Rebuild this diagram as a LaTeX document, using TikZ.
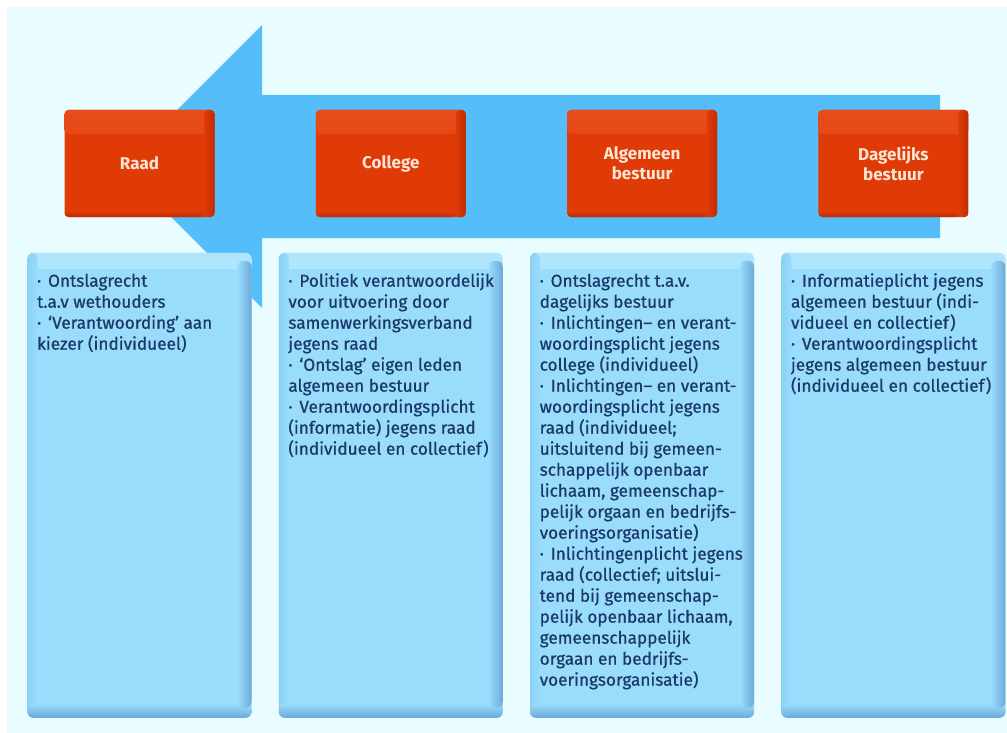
\documentclass[tikz,border=0pt]{standalone}
\usepackage{fontspec}
\setmainfont{Fira Sans}
\newfontfamily\infofont{Fira Sans}[Ligatures=TeX, FakeBold=0.7]
\usetikzlibrary{positioning}

\definecolor{bgcyan}{HTML}{E9FCFF}
\definecolor{arrowblue}{HTML}{55BDF8}
\definecolor{orgred}{HTML}{E03A07}
\definecolor{orglight}{HTML}{E64D1A}
\definecolor{orgdark}{HTML}{BE2D05}
\definecolor{orgtext}{HTML}{FDE7D4}
\definecolor{infofill}{HTML}{99DCFC}
\definecolor{infotop}{HTML}{B0E5FD}
\definecolor{infodark}{HTML}{6BA9D9}
\definecolor{infoside}{HTML}{8BD1F5}
\definecolor{infotext}{HTML}{1B3966}

% one bullet item, hanging
\newcommand{\itm}{\par\hangindent=5.5pt\hangafter=1\noindent\makebox[5.5pt][l]{\strut·}}
% contents of a blue box
\newcommand{\infotxt}[1]{\parbox[t][232.5pt][t]{112pt}{\raggedright\leftskip=4.8pt\vspace*{9.6pt}#1}}

\tikzset{
  orgbox/.style={rectangle, rounded corners=2pt, fill=orgred,
    minimum width=75pt, minimum height=53.5pt, inner sep=2pt,
    align=center, text=orgtext, font=\fontsize{8.5}{10}\selectfont\bfseries,
    path picture={
      \shade[top color=orglight, bottom color=orgred]
        (path picture bounding box.north west) rectangle ([yshift=-12pt]path picture bounding box.north east);
      \shade[left color=orgred, right color=orgdark]
        ([xshift=-5pt]path picture bounding box.north east) rectangle (path picture bounding box.south east);
      \shade[top color=orgred, bottom color=orgdark]
        ([yshift=3pt]path picture bounding box.south west) rectangle ([xshift=-5pt]path picture bounding box.south east);
    }},
  infobox/.style={rectangle, rounded corners=3pt, fill=infofill, inner sep=0pt,
    text=infotext, font=\infofont\fontsize{8.6}{10.5}\selectfont,
    path picture={
      \shade[top color=infotop, bottom color=infofill]
        (path picture bounding box.north west) rectangle ([yshift=-8pt]path picture bounding box.north east);
      \shade[left color=infoside, right color=infofill]
        (path picture bounding box.north west) rectangle ([xshift=5pt]path picture bounding box.south west);
      \shade[top color=infofill, bottom color=infodark]
        ([yshift=7pt]path picture bounding box.south west) rectangle (path picture bounding box.south east);
      \shade[left color=infofill, right color=infodark]
        ([xshift=-7pt,yshift=-4pt]path picture bounding box.north east) rectangle ([yshift=5pt]path picture bounding box.south east);
    }},
}

\begin{document}
\begin{tikzpicture}[x=0.5pt, y=-0.5pt]
  \useasboundingbox (0,0) rectangle (1007,733);
  \fill[white] (0,0) rectangle (1007,733);
  \fill[bgcyan] (7,7) rectangle (1007,733);

  % big arrow to the left
  \fill[arrowblue] (940,95) -- (262,95) -- (262,25) -- (120.5,166.5)
    -- (262,308) -- (262,238) -- (940,238) -- cycle;

  % organen
  \node[orgbox] (raad) at (139.5,163.5) {Raad};
  \node[orgbox, right=50.25pt of raad] (college) {College};
  \node[orgbox, right=50.25pt of college] (algemeen) {Algemeen\\bestuur};
  \node[orgbox, right=50.25pt of algemeen] (dagelijks) {Dagelijks\\bestuur};

  % taken per orgaan
  \node[infobox, below=17.5pt of raad] (raadinfo) {\infotxt{%
    \itm Ontslagrecht\\t.a.v wethouders
    \itm ‘Verantwoording’ aan\\kiezer (individueel)}};
  \node[infobox, below=17.5pt of college] (collegeinfo) {\infotxt{%
    \itm Politiek verantwoordelijk\\voor uitvoering door\\samenwerkingsverband\\jegens raad
    \itm ‘Ontslag’ eigen leden\\algemeen bestuur
    \itm Verantwoordingsplicht\\(informatie) jegens raad\\(individueel en collectief)}};
  \node[infobox, below=17.5pt of algemeen] (algemeeninfo) {\infotxt{%
    \itm Ontslagrecht t.a.v.\\dagelijks bestuur
    \itm Inlichtingen– en verant-\\woordingsplicht jegens\\college (individueel)
    \itm Inlichtingen– en verant-\\woordingsplicht jegens\\raad (individueel;\\uitsluitend bij gemeen-\\schappelijk openbaar\\lichaam, gemeenschap-\\pelijk orgaan en bedrijfs-\\voeringsorganisatie)
    \itm Inlichtingenplicht jegens\\raad (collectief; uitslui-\\tend bij gemeenschap-\\pelijk openbaar lichaam,\\gemeenschappelijk\\orgaan en bedrijfs-\\voeringsorganisatie)}};
  \node[infobox, below=17.5pt of dagelijks] (dagelijksinfo) {\infotxt{%
    \itm Informatieplicht jegens\\algemeen bestuur (indi-\\vidueel en collectief)
    \itm Verantwoordingsplicht\\jegens algemeen bestuur\\(individueel en collectief)}};
\end{tikzpicture}
\end{document}
